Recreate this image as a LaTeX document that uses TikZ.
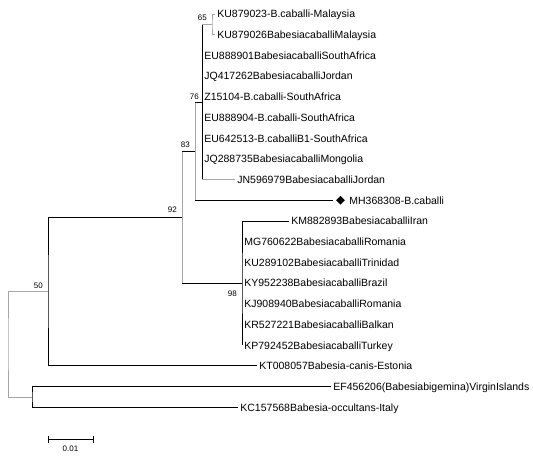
\documentclass[tikz,border=0pt]{standalone}
\usepackage{fontspec}
\setmainfont{Liberation Sans}
\usepackage{tikz}
\usepackage{xcolor}
\usetikzlibrary{shapes.geometric}
\tikzset{%
  br/.style={line width=0.9pt, black},
  gbr/.style={line width=0.8pt, gray!70},
  leaf/.style={anchor=west, inner xsep=2.2pt, inner ysep=0pt, text height=7.6pt, text depth=0pt, font=\fontsize{10.5}{12}\selectfont},
  boot/.style={anchor=south east, inner sep=0pt, font=\fontsize{8}{9}\selectfont},
  mark diamond/.style={diamond, fill=black, inner sep=0pt, minimum width=9pt, minimum height=9pt}
}

\begin{document}
\begin{tikzpicture}[x=1pt,y=-1pt]
	\useasboundingbox (0,0) rectangle (533,461);
	\coordinate (n65) at (212,24.35);
	\coordinate (n76) at (202,101.98);
	\coordinate (n83) at (195,151.1);
	\coordinate (n98) at (242,283.1);
	\coordinate (n92) at (182,217.1);
	\coordinate (n50) at (48,291.5);
	\coordinate (nout) at (32,396.95);
	\coordinate (root) at (8,344.2);
	\coordinate (t10) at (333,200.3);
	\node[leaf] (l1) at (215,14) {KU879023-B.caballi-Malaysia};
	\node[leaf] (l2) at (215,34.7) {KU879026BabesiacaballiMalaysia};
	\node[leaf] (l3) at (202,55.4) {EU888901BabesiacaballiSouthAfrica};
	\node[leaf] (l4) at (202,76.1) {JQ417262BabesiacaballiJordan};
	\node[leaf] (l5) at (202,96.8) {Z15104-B.caballi-SouthAfrica};
	\node[leaf] (l6) at (202,117.5) {EU888904-B.caballi-SouthAfrica};
	\node[leaf] (l7) at (202,138.2) {EU642513-B.caballiB1-SouthAfrica};
	\node[leaf] (l8) at (202,158.9) {JQ288735BabesiacaballiMongolia};
	\node[leaf] (l9) at (235,179.6) {JN596979BabesiacaballiJordan};
	\node[mark diamond] (dm) at (340.5,200.3) {};
	\node[leaf] (l10) at (347,200.3) {MH368308-B.caballi};
	\node[leaf] (l11) at (289,221) {KM882893BabesiacaballiIran};
	\node[leaf] (l12) at (242,241.7) {MG760622BabesiacaballiRomania};
	\node[leaf] (l13) at (242,262.4) {KU289102BabesiacaballiTrinidad};
	\node[leaf] (l14) at (242,283.1) {KY952238BabesiacaballiBrazil};
	\node[leaf] (l15) at (242,303.8) {KJ908940BabesiacaballiRomania};
	\node[leaf] (l16) at (242,324.5) {KR527221BabesiacaballiBalkan};
	\node[leaf] (l17) at (242,345.2) {KP792452BabesiacaballiTurkey};
	\node[leaf] (l18) at (257,365.9) {KT008057Babesia-canis-Estonia};
	\node[leaf] (l19) at (331,386.6) {EF456206(Babesiabigemina)VirginIslands};
	\node[leaf] (l20) at (238,407.3) {KC157568Babesia-occultans-Italy};
	\draw[gbr] (l1.west) -| (n65) |- (l2.west);
	\draw[br] (n76 |- n65) -- (n76 |- l9.west);
	\draw[gbr] (n76 |- n65) -- (n65);
	\draw[gbr] (n76 |- l9.west) -- (l9.west);
	\draw[gbr] (n83 |- n76) -- (n83 |- t10);
	\draw[br] (n83 |- n76) -- (n76);
	\draw[br] (n83 |- t10) -- (t10);
	\draw[br] (l11.west) -| (n98) |- (l17.west);
	\draw[gbr] (n92 |- n83) -- (n92 |- n98);
	\draw[br] (n92 |- n83) -- (n83);
	\draw[br] (n92 |- n98) -- (n98);
	\draw[br] (n92) -| (n50) |- (l18.west);
	\draw[br] (l19.west) -| (nout) |- (l20.west);
	\draw[gbr] (n50) -| (root) |- (nout);
	\node[boot] (b65) at ([shift={(-5,-4)}]n65) {65};
	\node[boot] (b76) at ([shift={(-3,-2)}]n76) {76};
	\node[boot] (b83) at ([shift={(-5,-3)}]n83) {83};
	\node[boot] (b92) at ([shift={(-5,-4)}]n92) {92};
	\node[boot] (b50) at ([shift={(-5,-2.5)}]n50) {50};
	\node[boot, anchor=north east] (b98) at ([shift={(-5,8)}]n98) {98};
	\coordinate (s0) at (48,439);
	\coordinate (s1) at (93,439);
	\draw[br] (s0) -- (s1);
	\draw[br] ([yshift=3.5pt]s0) -- ([yshift=-3.5pt]s0);
	\draw[br] ([yshift=3.5pt]s1) -- ([yshift=-3.5pt]s1);
	\node[inner sep=0pt, text height=5.8pt, text depth=0pt, font=\fontsize{8}{9}\selectfont] (sbar) at (70.5,448.5) {0.01};
\end{tikzpicture}
\end{document}
